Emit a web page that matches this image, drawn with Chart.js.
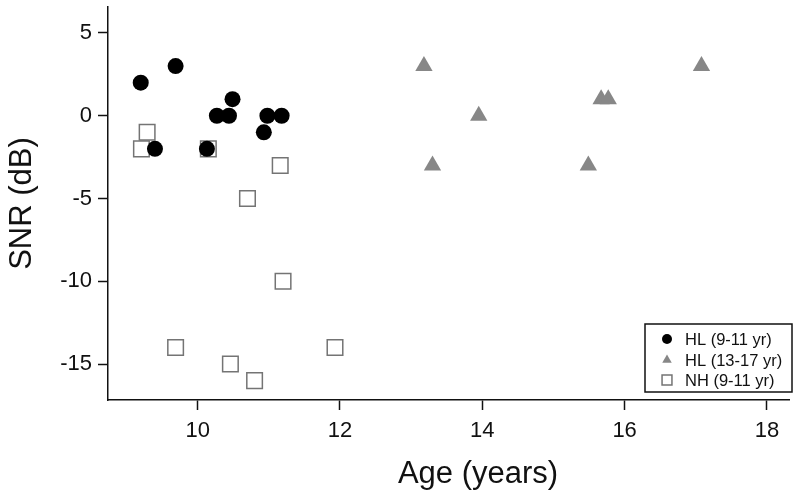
<!DOCTYPE html>
<html>
<head>
<meta charset="utf-8">
<script src="https://cdn.jsdelivr.net/npm/chart.js@4.4.1/dist/chart.umd.min.js"></script>
<style>
  html, body { margin: 0; padding: 0; background: #fff; }
  #wrap { width: 800px; height: 496px; position: relative; }
</style>
</head>
<body>
<div id="wrap"><canvas id="snrChart"></canvas></div>
<script>
// values
const hl911Age = [9.20, 9.69, 9.40, 10.13, 10.27, 10.44, 10.49, 10.93, 10.98, 11.18];
const hl911Snr = [2, 3, -2, -2, 0, 0, 1, -1, 0, 0];
const hl1317Age = [13.18, 13.95, 13.30, 15.49, 15.67, 15.77, 17.08];
const hl1317Snr = [3, 0, -3, -3, 1, 1, 3];
const nhAge = [9.21, 9.29, 10.15, 10.70, 11.16, 9.69, 10.46, 10.80, 11.20, 11.93];
const nhSnr = [-2, -1, -2, -5, -3, -14, -15, -16, -10, -14];
const xTicks = [10, 12, 14, 16, 18];
const yTicks = [-15, -10, -5, 0, 5];
const seriesLabels = ['HL (9-11 yr)', 'HL (13-17 yr)', 'NH (9-11 yr)'];
const xTitle = 'Age (years)';
const yTitle = 'SNR (dB)';

const FONT = '"Liberation Sans", Arial, Helvetica, sans-serif';
const INK = '#111';

function toPoints(xs, ys) {
    return xs.map((x, i) => ({ x: x, y: ys[i] }));
}

// x title and the boxed legend, drawn over the plot
const overlayPlugin = {
    id: 'overlay',
    afterDraw(chart) {
        const ctx = chart.ctx;
        ctx.save();
        ctx.fillStyle = INK;
        ctx.font = '31px ' + FONT;
        ctx.textAlign = 'center';
        ctx.textBaseline = 'alphabetic';
        ctx.fillText(xTitle, 478, 483);

        // legend box
        const bx = 645, by = 324, bw = 147, bh = 68;
        ctx.fillStyle = '#fff';
        ctx.fillRect(bx, by, bw, bh);
        ctx.strokeStyle = INK;
        ctx.lineWidth = 1.5;
        ctx.strokeRect(bx, by, bw, bh);

        const rows = [339, 360, 380];
        const sizes = [5, 5.5, 7];
        chart.data.datasets.forEach((ds, i) => {
            ctx.fillStyle = ds.backgroundColor;
            ctx.strokeStyle = ds.borderColor;
            ctx.lineWidth = ds.borderWidth;
            Chart.helpers.drawPoint(ctx, { pointStyle: ds.pointStyle, radius: sizes[i], borderWidth: ds.borderWidth }, 667, rows[i]);
            ctx.fillStyle = INK;
            ctx.font = '16.5px ' + FONT;
            ctx.textAlign = 'left';
            ctx.textBaseline = 'middle';
            ctx.fillText(ds.label, 685, rows[i] + 1);
        });
        ctx.restore();
    }
};

function initSnrChart() {
    const ctx = document.getElementById('snrChart').getContext('2d');
    const axisCommon = {
        type: 'linear',
        border: { display: true, color: INK, width: 1.5 },
        grid: {
            display: true,
            drawOnChartArea: false,
            drawTicks: true,
            tickLength: 10,
            tickColor: INK,
            tickWidth: 1.5
        }
    };

    return new Chart(ctx, {
        type: 'scatter',
        data: {
            datasets: [
                {
                    label: seriesLabels[0],
                    data: toPoints(hl911Age, hl911Snr),
                    pointStyle: 'circle',
                    pointRadius: 8,
                    backgroundColor: '#000',
                    borderColor: '#000',
                    borderWidth: 0
                },
                {
                    label: seriesLabels[1],
                    data: toPoints(hl1317Age, hl1317Snr),
                    pointStyle: 'triangle',
                    pointRadius: 10,
                    backgroundColor: '#878787',
                    borderColor: '#878787',
                    borderWidth: 0
                },
                {
                    label: seriesLabels[2],
                    data: toPoints(nhAge, nhSnr),
                    pointStyle: 'rect',
                    pointRadius: 11,
                    backgroundColor: 'rgba(255,255,255,0)',
                    borderColor: '#747474',
                    borderWidth: 1.5
                }
            ]
        },
        options: {
            responsive: true,
            maintainAspectRatio: false,
            animation: false,
            events: [],
            layout: { autoPadding: false, padding: { top: 7, right: 11, left: 0, bottom: 0 } },
            scales: {
                x: Object.assign({}, axisCommon, {
                    min: 8.74,
                    max: 18.31,
                    afterBuildTicks: (scale) => { scale.ticks = xTicks.map(v => ({ value: v })); },
                    afterFit: (scale) => {
                        scale.height = 96;
                        scale.paddingLeft = 0;
                        scale.paddingRight = 0;
                    },
                    ticks: { color: INK, font: { family: FONT, size: 22 }, padding: 8, maxRotation: 0 }
                }),
                y: Object.assign({}, axisCommon, {
                    min: -17.17,
                    max: 6.57,
                    afterBuildTicks: (scale) => { scale.ticks = yTicks.map(v => ({ value: v })); },
                    afterFit: (scale) => {
                        scale.width = 108;
                        scale.paddingTop = 0;
                        scale.paddingBottom = 0;
                    },
                    ticks: { color: INK, font: { family: FONT, size: 22 }, padding: 6 },
                    title: {
                        display: true,
                        text: yTitle,
                        color: INK,
                        font: { family: FONT, size: 31 },
                        padding: { top: 4, bottom: 0 }
                    }
                })
            },
            plugins: {
                legend: { display: false },
                tooltip: { enabled: false }
            }
        },
        plugins: [overlayPlugin]
    });
}

initSnrChart();
</script>
</body>
</html>
